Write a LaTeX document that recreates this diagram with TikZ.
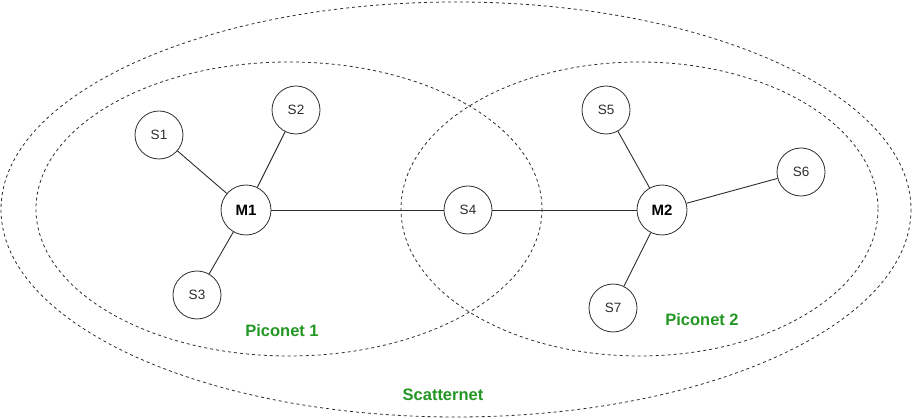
\documentclass[tikz,border=0pt]{standalone}
\usepackage{fontspec}
\setmainfont{Liberation Sans}
\definecolor{netgreen}{RGB}{36,150,36}
\definecolor{inkgray}{RGB}{45,45,45}

\begin{document}
\begin{tikzpicture}[
    x=1pt,y=-1pt,
    slave/.style={draw=inkgray,circle,line width=0.8pt,minimum size=48pt,inner sep=0pt,
      text=inkgray,font=\fontsize{13.5}{16}\selectfont},
    master/.style={slave,minimum size=50pt,text=black,font=\fontsize{15}{18}\selectfont\bfseries},
    net/.style={draw=inkgray,line width=0.8pt,dash pattern=on 3pt off 3pt},
    netlabel/.style={text=netgreen,font=\fontsize{16.5}{20}\selectfont\bfseries},
    link/.style={draw=inkgray,line width=0.9pt}
    ]
    \useasboundingbox (0,0) rectangle (913,419);

    % scatternet and the two piconets
    \draw[net] (456,209.5) ellipse [x radius=455,y radius=207.5];
    \draw[net] (289,209) ellipse [x radius=253,y radius=147];
    \draw[net] (639.5,209) ellipse [x radius=238.5,y radius=147];

    % piconet 1
    \node[master] (m1) at (246,210) {M1};
    \node[slave] (s1) at (159,135) {S1};
    \node[slave] (s2) at (296,110) {S2};
    \node[slave] (s3) at (197,295) {S3};

    % bridge
    \node[slave] (s4) at (468,210) {S4};

    % piconet 2
    \node[master] (m2) at (662,210) {M2};
    \node[slave] (s5) at (606,110) {S5};
    \node[slave] (s6) at (801,172) {S6};
    \node[slave] (s7) at (613,308) {S7};

    \draw[link] (m1) -- (s1);
    \draw[link] (m1) -- (s2);
    \draw[link] (m1) -- (s3);
    \draw[link] (m1) -- (s4);
    \draw[link] (s4) -- (m2);
    \draw[link] (m2) -- (s5);
    \draw[link] (m2) -- (s6);
    \draw[link] (m2) -- (s7);

    \node[netlabel] (pico1) at (282,331) {Piconet 1};
    \node[netlabel] (pico2) at (702,320) {Piconet 2};
    \node[netlabel] (scat) at (443,395) {Scatternet};
  \end{tikzpicture}
\end{document}
